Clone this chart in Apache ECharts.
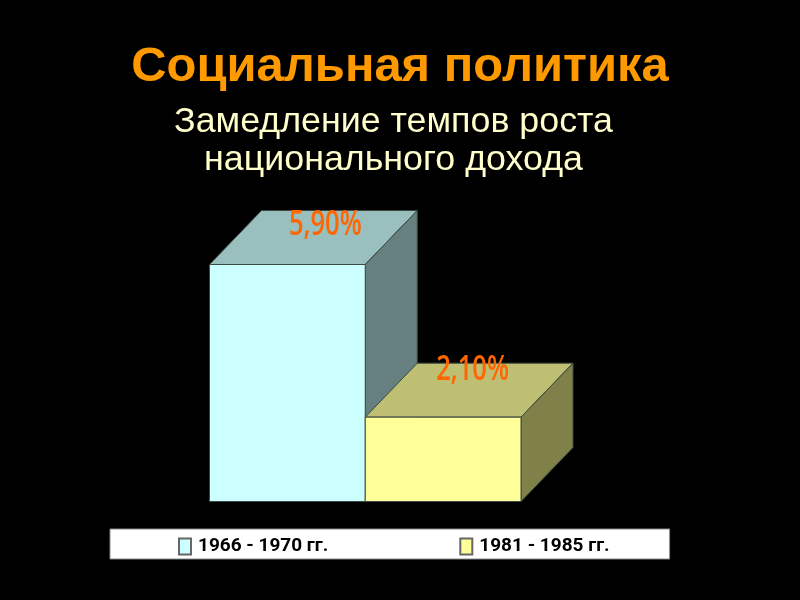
<!DOCTYPE html>
<html><head><meta charset="utf-8">
<style>html,body{margin:0;padding:0;background:#000}#c{width:800px;height:600px}</style>
<script src="https://cdn.jsdelivr.net/npm/echarts@6/dist/echarts.min.js"></script>
</head><body><div id="c"></div>
<script>
const periods = ['1966 - 1970 гг.', '1981 - 1985 гг.'];
const values = [5.9, 2.1];
const valueLabels = ['5,90%', '2,10%'];
const titleText = 'Социальная политика';
const subtitleText = 'Замедление темпов роста\nнационального дохода';
const palettes = [
  {front:'#CCFFFF', top:'#99BFBF', side:'#668080', labelDx:38, labelDy:-39},
  {front:'#FFFF99', top:'#BFBF73', side:'#808049', labelDx:29.5, labelDy:-47}
];
const depthX = 52, depthY = -54;
const edge = '#3c4a44';

function renderBox(pal, text) {
  return function (params, api) {
    const p0 = api.coord([api.value(0), 0]);
    const p1 = api.coord([api.value(0), api.value(1)]);
    const w = api.size([1, 0])[0];
    const l = p0[0] - w / 2, r = p0[0] + w / 2, b = p0[1], t = p1[1];
    const base = {stroke: edge, lineWidth: 1};
    return {type: 'group', children: [
      {type:'polygon', shape:{points:[[l,t],[r,t],[r+depthX,t+depthY],[l+depthX,t+depthY]]}, style:Object.assign({fill:pal.top},base)},
      {type:'polygon', shape:{points:[[r,t],[r+depthX,t+depthY],[r+depthX,b+depthY],[r,b]]}, style:Object.assign({fill:pal.side},base)},
      {type:'rect', shape:{x:l,y:t,width:w,height:b-t}, style:Object.assign({fill:pal.front},base)},
      {type:'text', x:p0[0]+pal.labelDx, y:t+pal.labelDy, scaleX:0.75,
        style:{x:0, y:0, text:text, fill:'#FF6600',
        font:'600 34px "Open Sans"', textAlign:'center', textVerticalAlign:'middle'}}
    ]};
  };
}

const chart = echarts.init(document.getElementById('c'), null, {renderer:'canvas'});
chart.setOption({
  backgroundColor:'#000',
  animation:false,
  title:[{
    text:titleText, left:395, textAlign:'center', top:38,
    textStyle:{color:'#FF9900', fontFamily:'Liberation Sans', fontWeight:'bold', fontSize:48.9}
  },{
    text:subtitleText, left:388.5, textAlign:'center', top:98,
    textStyle:{color:'#FFFFCC', fontFamily:'Liberation Sans', fontWeight:'normal', fontSize:35.8, lineHeight:38, align:'center'}
  }],
  legend:{
    left:110, top:529, orient:'horizontal', icon:'rect', itemWidth:12, itemHeight:16, itemGap:131,
    padding:[8,60,3,68], backgroundColor:'#fff', borderColor:'#888', borderWidth:1,
    textStyle:{color:'#000', fontFamily:'Roboto', fontWeight:'bold', fontSize:19, padding:[0,0,0,2]},
    data:periods
  },
  grid:{left:209.5, top:260.5, width:311.5, height:241, containLabel:false},
  xAxis:{type:'category', data:periods, show:false},
  yAxis:{type:'value', min:0, max:6, interval:1, show:false},
  series:periods.map((name,i)=>({
    name:name, type:'custom', coordinateSystem:'cartesian2d',
    itemStyle:{color:palettes[i].front, borderColor:'#666', borderWidth:1},
    renderItem:renderBox(palettes[i], valueLabels[i]),
    encode:{x:0,y:1},
    data:[[i, values[i]]],
    clip:false
  }))
});
</script></body></html>
